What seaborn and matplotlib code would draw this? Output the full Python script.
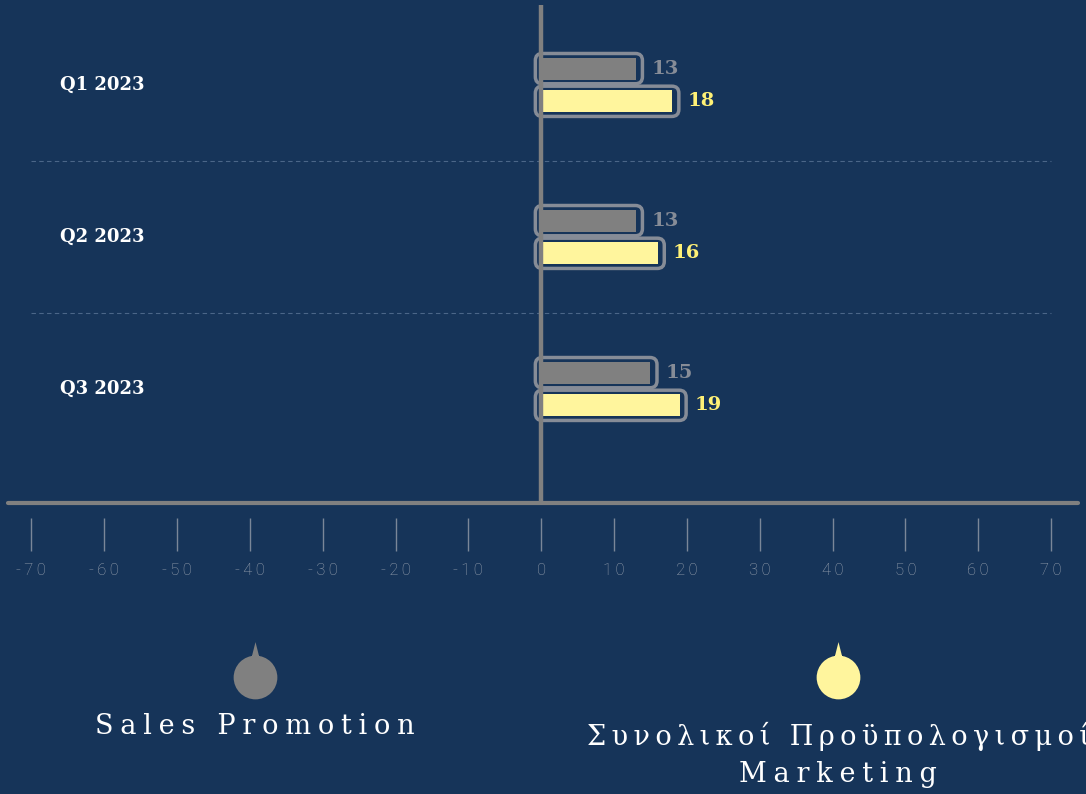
import numpy as np
import pandas as pd
import matplotlib
matplotlib.use("Agg")
import matplotlib.pyplot as plt
import matplotlib.transforms as mtransforms
import seaborn as sns
from matplotlib.patches import FancyBboxPatch
from matplotlib.path import Path

# data
quarters = ["Q1 2023", "Q2 2023", "Q3 2023"]
sales_promotion = [13, 13, 15]
marketing_total = [18, 16, 19]
series = ["Sales Promotion", "Συνολικοί Προϋπολογισμοί Marketing"]
tick_values = list(range(-70, 71, 10))

bg = "#163459"
grey = "#808080"
yellow = "#FFF59D"
outline = "#868c97"
label_cols = ["#868c97", "#FFF176"]

df = pd.DataFrame({
    "Quarter": quarters * 2,
    "Series": [series[0]] * len(quarters) + [series[1]] * len(quarters),
    "Value": sales_promotion + marketing_total,
})

sns.set_style("dark")
plt.rcParams["font.family"] = ["DejaVu Serif"]

W, H = 1086, 794
fig = plt.figure(figsize=(W / 100, H / 100), dpi=100, facecolor=bg)
ax = fig.add_axes([8 / W, 1 - 503 / H, 1070 / W, 498 / H])
ax.set_facecolor(bg)

GAP = 0.33
sns.barplot(data=df, y="Quarter", x="Value", hue="Series", hue_order=series,
            order=quarters, palette=[grey, yellow], orient="h", width=0.43,
            gap=GAP, saturation=1, legend=False, ax=ax, zorder=3,
            edgecolor="none", linewidth=0)

ax.set_xlim(-73.2, 73.7)
ax.set_ylim(2.75, -0.526)

# rounded outline boxes + value labels
for cont, lc in zip(ax.containers, label_cols):
    for p in cont.patches:
        w = p.get_width()
        h = p.get_height()
        yc = p.get_y() + h / 2
        slot = h / (1 - GAP)
        x0, x1 = -0.8, w + 0.9
        y0, y1 = yc - slot / 2 + 0.008, yc + slot / 2 - 0.008
        box = FancyBboxPatch((x0, y0), x1 - x0, y1 - y0,
                             boxstyle="round,pad=0,rounding_size=0.96",
                             mutation_aspect=0.048, fill=False,
                             ec=outline, lw=2.5, zorder=2)
        ax.add_patch(box)
        ax.text(x1 + 1.2, yc, f"{w:.0f}", va="center", ha="left",
                color=lc, fontsize=14, fontweight="bold", zorder=4)

ax.axvline(0, color=grey, lw=3.2, zorder=5)
ax.axhline(2.75, color=grey, lw=3, clip_on=False, zorder=5)
ax.hlines([0.5, 1.5], -70, 70, colors="#4b6688", linestyles=(0, (4, 3)), lw=0.8)

for s in ax.spines.values():
    s.set_visible(False)
ax.spines["bottom"].set_position(("outward", 10.5))
ax.set_xticks(tick_values)
ax.set_xticklabels(["\u2009".join(str(t)) for t in tick_values],
                   fontfamily=["Roboto", "DejaVu Sans"], fontweight="light")
ax.tick_params(axis="x", bottom=True, direction="out", length=24, width=1,
               color="#7a8698", pad=9, labelsize=12, labelcolor="#96a0ae")
ax.set_yticks([])
ax.set_xlabel("")
ax.set_ylabel("")
ax.grid(False)

trans = mtransforms.blended_transform_factory(ax.transAxes, ax.transData)
for i, q in enumerate(quarters):
    ax.text(52 / 1070, i, q, transform=trans, color="white", fontsize=13,
            fontweight="bold", va="center", ha="left")

# legend: dot with a small spike, label underneath
circle = Path.circle((0, 0), 1)
spike = Path([(-0.17, 0.95), (0.17, 0.95), (0, 1.62), (-0.17, 0.95)],
             [Path.MOVETO, Path.LINETO, Path.LINETO, Path.CLOSEPOLY])
pin = Path.make_compound_path(circle, spike)

lax = fig.add_axes([0, 0, 1, 1], zorder=-1)
lax.set_xlim(0, W)
lax.set_ylim(H, 0)
lax.axis("off")
lax.patch.set_alpha(0)


def spaced(s, sep="\u2005"):
    return sep.join(s)


leg_x = [255, 838]
leg_text = [spaced(series[0]),
            spaced("Συνολικοί Προϋπολογισμοί", "\u2009") + "\n" + spaced("Marketing")]
leg_y = [727, 755]
for x, c, t, ty in zip(leg_x, [grey, yellow], leg_text, leg_y):
    lax.scatter([x], [677], marker=pin, s=51 ** 2, color=c, linewidths=0)
    lax.text(x, ty, t, ha="center", va="center", color="white", fontsize=19.5,
             linespacing=1.5, multialignment="center")

fig.savefig("out.png", dpi=100, facecolor=bg)
